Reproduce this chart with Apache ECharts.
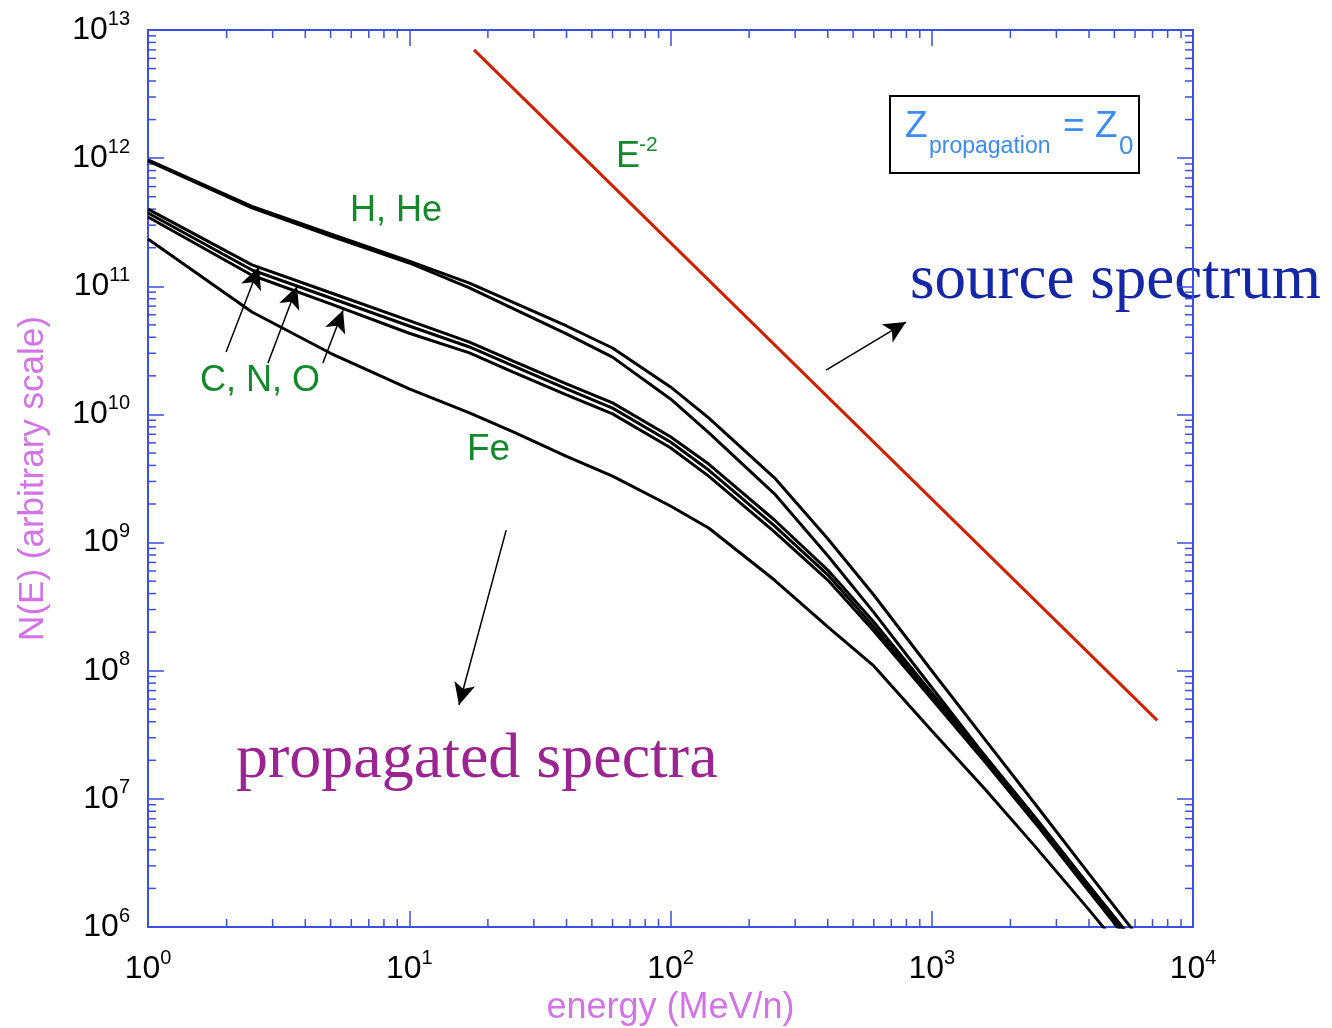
<!DOCTYPE html>
<html>
<head>
<meta charset="utf-8">
<script src="https://cdn.jsdelivr.net/npm/echarts@6/dist/echarts.min.js"></script>
<style>
html, body { margin: 0; padding: 0; background: #fff; }
#main { width: 1332px; height: 1028px; }
</style>
</head>
<body>
<div id="main"></div>
<script>
var energy = [1, 2.5, 5, 10, 17, 25, 40, 60, 100, 140, 250, 400, 600, 1000, 1600, 2500, 4000, 6000];
var hFlux  = [9.7e11, 4.2e11, 2.56e11, 1.57e11, 1.06e11, 7.5e10, 4.9e10, 3.3e10, 1.64e10, 9.4e9, 3.2e9, 1.07e9, 3.9e8, 1.0e8, 2.9e7, 9.0e6, 2.6e6, 9.0e5];
var heFlux = [9.5e11, 4.1e11, 2.47e11, 1.52e11, 0.97e11, 6.7e10, 4.25e10, 2.8e10, 1.32e10, 7.2e9, 2.4e9, 7.9e8, 2.85e8, 7.4e7, 2.15e7, 6.8e6, 2.1e6, 7.5e5];
var cFlux  = [4.0e11, 1.47e11, 8.9e10, 5.4e10, 3.67e10, 2.61e10, 1.73e10, 1.23e10, 6.7e9, 4.1e9, 1.5e9, 6.1e8, 2.4e8, 6.7e7, 2.16e7, 7.1e6, 2.1e6, 7.5e5];
var nFlux  = [3.73e11, 1.34e11, 8.1e10, 4.9e10, 3.36e10, 2.39e10, 1.58e10, 1.12e10, 6.1e9, 3.68e9, 1.35e9, 5.6e8, 2.2e8, 6.35e7, 2.05e7, 6.7e6, 2.0e6, 7.1e5];
var oFlux  = [3.47e11, 1.22e11, 7.3e10, 4.3e10, 3.02e10, 2.14e10, 1.42e10, 1.01e10, 5.5e9, 3.3e9, 1.21e9, 5.1e8, 2.04e8, 6.0e7, 1.94e7, 6.4e6, 1.9e6, 6.7e5];
var feFlux = [2.34e11, 6.3e10, 3.0e10, 1.58e10, 1.03e10, 7.3e9, 4.7e9, 3.3e9, 1.93e9, 1.3e9, 5.1e8, 2.2e8, 1.09e8, 3.4e7, 1.19e7, 4.2e6, 1.36e6, 5.0e5];

// E^-2 source spectrum
var sourceE = [17.7, 7300];
var sourceFlux = [7.0e12, 4.1e7];

// annotation arrows (tail -> head)
var arrowFrom = [[1.99, 3.07e10], [2.88, 2.52e10], [4.67, 2.52e10], [394, 2.22e10], [23.5, 1.25e9]];
var arrowTo   = [[2.66, 1.42e11], [3.72, 1.0e11], [5.58, 6.5e10], [797, 5.26e10], [15.5, 5.4e7]];

var xDecades = [1, 10, 100, 1000];
var yDecades = [1e6, 1e7, 1e8, 1e9, 1e10, 1e11, 1e12];
var minorSteps = [2, 3, 4, 5, 6, 7, 8, 9];

var frameBlue = '#3a4fe4';
var green = '#12892a';
var sans = '"Liberation Sans", Arial, sans-serif';
var serif = '"Liberation Serif", "Times New Roman", serif';

function pairs(xs, ys) {
    var out = [];
    for (var i = 0; i < xs.length; i++) out.push([xs[i], ys[i]]);
    return out;
}

var minorTicks = [];
xDecades.forEach(function (d) {
    minorSteps.forEach(function (s) { minorTicks.push([d * s, 1e6, 0]); });
});
yDecades.forEach(function (d) {
    minorSteps.forEach(function (s) { minorTicks.push([1, d * s, 1]); });
});

var arrows = [];
for (var i = 0; i < arrowFrom.length; i++) {
    arrows.push([{coord: arrowFrom[i]}, {coord: arrowTo[i]}]);
}

function powLabel(v) {
    return '{b|10}{s|' + Math.round(Math.log10(v)) + '}';
}
var labelRich = {
    b: {fontSize: 32, fontFamily: sans, color: '#000', lineHeight: 42},
    s: {fontSize: 20, fontFamily: sans, color: '#000', lineHeight: 20, verticalAlign: 'top'}
};

function frameAxis(pos, isX, show) {
    return {
        type: 'log',
        logBase: 10,
        position: pos,
        min: isX ? 1 : 1e6,
        max: isX ? 10000 : 1e13,
        splitNumber: 10,
        axisLine: {show: true, onZero: false, lineStyle: {color: frameBlue, width: 2}},
        axisTick: {show: true, inside: true, length: 16, lineStyle: {color: frameBlue, width: 1.5}},
        splitLine: {show: false},
        axisLabel: {show: show, formatter: powLabel, rich: labelRich, margin: isX ? 21 : 18}
    };
}

var xBottom = frameAxis('bottom', true, true);
xBottom.name = 'energy (MeV/n)';
xBottom.nameLocation = 'middle';
xBottom.nameGap = 61;
xBottom.nameTextStyle = {fontSize: 36, fontFamily: sans, color: '#d273e6'};
var yLeft = frameAxis('left', false, true);
yLeft.name = 'N(E) (arbitrary scale)';
yLeft.nameLocation = 'middle';
yLeft.nameGap = 97;
yLeft.nameTextStyle = {fontSize: 35, fontFamily: sans, color: '#d273e6'};

function curve(name, ys) {
    return {
        name: name,
        type: 'line',
        data: pairs(energy, ys),
        symbol: 'none',
        lineStyle: {color: '#000', width: 3},
        z: 3
    };
}

function label(x, y, text, size, family, color) {
    return {
        type: 'text', x: x, y: y,
        style: {text: text, font: size + 'px ' + family, fill: color, textVerticalAlign: 'middle', verticalAlign: 'middle'}
    };
}

var chart = echarts.init(document.getElementById('main'));

chart.setOption({
    animation: false,
    backgroundColor: '#fff',
    grid: {left: 148, top: 30, width: 1045, height: 897, containLabel: false, outerBoundsMode: 'none'},
    xAxis: [xBottom, frameAxis('top', true, false)],
    yAxis: [yLeft, frameAxis('right', false, false)],
    series: [
        curve('H', hFlux),
        curve('He', heFlux),
        curve('C', cFlux),
        curve('N', nFlux),
        curve('O', oFlux),
        curve('Fe', feFlux),
        {
            name: 'E-2',
            type: 'line',
            data: pairs(sourceE, sourceFlux),
            symbol: 'none',
            lineStyle: {color: '#cc2200', width: 3},
            z: 2
        },
        {
            name: 'arrows',
            type: 'line',
            data: [],
            markLine: {
                silent: true,
                symbol: ['none', 'arrow'],
                symbolSize: [16, 22],
                label: {show: false},
                lineStyle: {color: '#000', width: 1.5, type: 'solid'},
                data: arrows
            }
        },
        {
            name: 'minorTicks',
            type: 'custom',
            data: minorTicks,
            silent: true,
            renderItem: function (params, api) {
                var style = {stroke: frameBlue, lineWidth: 1.5};
                var a, b;
                if (api.value(2) === 0) {
                    a = api.coord([api.value(0), 1e6]);
                    b = api.coord([api.value(0), 1e13]);
                    return {type: 'group', children: [
                        {type: 'line', shape: {x1: a[0], y1: a[1], x2: a[0], y2: a[1] - 8}, style: style},
                        {type: 'line', shape: {x1: b[0], y1: b[1], x2: b[0], y2: b[1] + 8}, style: style}
                    ]};
                }
                a = api.coord([1, api.value(1)]);
                b = api.coord([10000, api.value(1)]);
                return {type: 'group', children: [
                    {type: 'line', shape: {x1: a[0], y1: a[1], x2: a[0] + 8, y2: a[1]}, style: style},
                    {type: 'line', shape: {x1: b[0], y1: b[1], x2: b[0] - 8, y2: b[1]}, style: style}
                ]};
            }
        }
    ],
    graphic: [
        label(350, 211, 'H, He', 36, sans, green),
        label(200, 381, 'C, N, O', 36, sans, green),
        label(467, 450, 'Fe', 37, sans, green),
        label(616, 157, 'E', 36, sans, green),
        label(639, 145, '-2', 21, sans, green),
        {type: 'rect', shape: {x: 890, y: 96, width: 249, height: 77}, style: {fill: '#fff', stroke: '#000', lineWidth: 2}},
        label(905, 127, 'Z', 37, sans, '#3a8cf2'),
        label(929, 147, 'propagation', 23, sans, '#3a8cf2'),
        label(1063, 127, '= Z', 37, sans, '#3a8cf2'),
        label(1119, 147, '0', 26, sans, '#3a8cf2'),
        label(910, 281, 'source spectrum', 63, serif, '#1427a6'),
        label(236, 760, 'propagated spectra', 64, serif, '#9b2392')
    ]
});
</script>
</body>
</html>
